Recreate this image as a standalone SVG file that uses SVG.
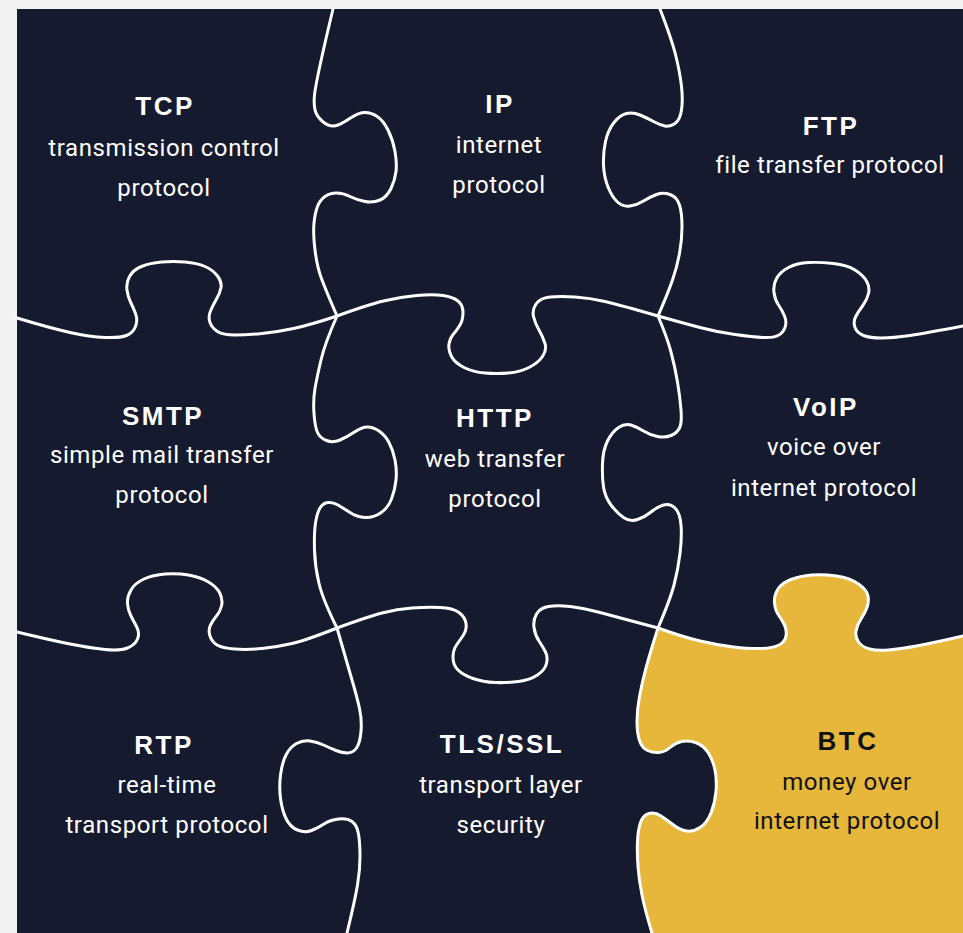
<svg xmlns="http://www.w3.org/2000/svg" width="963" height="933" viewBox="0 0 963 933">
<style>
.t{font-family:"Liberation Sans",Arial,sans-serif;font-weight:700;font-size:26px;letter-spacing:2.5px;fill:#ffffff;text-anchor:middle}
.s{font-family:Roboto,"Liberation Sans",sans-serif;font-size:24px;letter-spacing:0.6px;fill:#ffffff;text-anchor:middle}
.dark{fill:#111111}
.seam{fill:none;stroke:#ffffff;stroke-width:3;stroke-linecap:round;stroke-linejoin:round}
</style>
<rect x="0" y="0" width="963" height="933" fill="#f3f3f3"/>
<rect x="17" y="9" width="946" height="924" fill="#161a2e"/>
<g id="btc-shape">
<path fill="#e6b73a" d="M658,628 Q683,637 700,641 Q717,645 733.5,647 Q750,649 761.5,648.5 Q773,648 779,645 Q785,642 786,636 Q787,630 784.5,625 Q782,620 778.5,615 Q775,610 774.5,602.5 Q774,595 778,589 Q782,583 791,579.5 Q800,576 811.5,575 Q823,574 836.5,576 Q850,578 858.5,584 Q867,590 868,596 Q869,602 867,607.5 Q865,613 861,619 Q857,625 856,631 Q855,637 858.5,642 Q862,647 869.5,649 Q877,651 888.5,650 Q900,649 916.5,646 Q933,643 963,636 L963,933 L652,933 Q645,910 642,895 Q639,880 638,866.5 Q637,853 637.5,841.5 Q638,830 640.5,822.5 Q643,815 649,813.5 Q655,812 661,816 Q667,820 673.5,825 Q680,830 686.5,831 Q693,832 700,827.5 Q707,823 711,813 Q715,803 716,791.5 Q717,780 715,770 Q713,760 708,752.5 Q703,745 695.5,742.5 Q688,740 681.5,741.5 Q675,743 670,747.5 Q665,752 659,752.5 Q653,753 647.5,750.5 Q642,748 639.5,740.5 Q637,733 637,721.5 Q637,710 639.5,696.5 Q642,683 646,668 Q650,653 658,628 Z"/>
</g>
<g id="connectors" class="seam">
<path d="M333,9 Q316,80 314.5,95 Q313,110 318,116.5 Q323,123 328,125 Q333,127 338,125 Q343,123 350.5,118 Q358,113 364,112.5 Q370,112 376.5,116 Q383,120 388,130 Q393,140 395,151.5 Q397,163 396,171.5 Q395,180 391,188.5 Q387,197 380,200 Q373,203 365,201.5 Q357,200 350,196.5 Q343,193 336.5,193 Q330,193 325,196.5 Q320,200 317.5,206.5 Q315,213 314,223 Q313,233 315,250 Q317,267 322,280 Q327,293 337,316"/>
<path d="M337,316 Q325,343 321,360 Q317,377 315,388.5 Q313,400 314,413.5 Q315,427 317.5,432.5 Q320,438 326.5,440.5 Q333,443 340,440 Q347,437 354.5,432 Q362,427 367.5,427 Q373,427 379,431 Q385,435 389,442.5 Q393,450 395,460 Q397,470 396,480 Q395,490 391.5,499 Q388,508 380.5,513 Q373,518 365,517.5 Q357,517 350,512.5 Q343,508 338,505 Q333,502 328,502.5 Q323,503 320,508 Q317,513 315.5,523 Q314,533 314.5,550 Q315,567 319,583.5 Q323,600 337,628"/>
<path d="M337,628 Q347,663 352,680 Q357,697 359.5,708.5 Q362,720 361,731.5 Q360,743 356.5,748 Q353,753 347.5,753 Q342,753 336,750.5 Q330,748 323.5,745 Q317,742 310,741 Q303,740 296.5,743.5 Q290,747 286,755 Q282,763 280.5,775 Q279,787 280.5,798.5 Q282,810 286,818.5 Q290,827 297.5,830 Q305,833 311.5,830.5 Q318,828 324,824 Q330,820 338.5,819 Q347,818 352,821.5 Q357,825 358.5,834 Q360,843 360,856.5 Q360,870 357.5,885 Q355,900 347,933"/>
<path d="M660,9 Q672,40 676,56.5 Q680,73 681.5,86.5 Q683,100 681.5,110 Q680,120 675,123.5 Q670,127 665,126 Q660,125 653.5,121.5 Q647,118 640,115 Q633,112 626.5,113.5 Q620,115 614,122.5 Q608,130 605.5,141.5 Q603,153 603.5,165 Q604,177 608,187 Q612,197 617.5,202 Q623,207 630,206 Q637,205 643.5,201 Q650,197 656.5,194.5 Q663,192 670,194.5 Q677,197 679.5,205 Q682,213 682,226.5 Q682,240 679.5,253.5 Q677,267 672.5,280 Q668,293 658,316"/>
<path d="M658,316 Q667,337 671,352 Q675,367 677.5,382 Q680,397 681,410 Q682,423 679.5,428 Q677,433 671,435.5 Q665,438 657.5,436.5 Q650,435 643.5,431 Q637,427 631,425 Q625,423 618.5,427.5 Q612,432 607.5,441 Q603,450 602.5,463.5 Q602,477 603.5,487 Q605,497 611,505 Q617,513 623.5,517.5 Q630,522 637.5,519.5 Q645,517 651,512 Q657,507 663.5,505 Q670,503 675,508 Q680,513 681,525 Q682,537 680,553.5 Q678,570 674,585 Q670,600 658,628"/>
<path d="M658,628 Q650,653 646,668 Q642,683 639.5,696.5 Q637,710 637,721.5 Q637,733 639.5,740.5 Q642,748 647.5,750.5 Q653,753 659,752.5 Q665,752 670,747.5 Q675,743 681.5,741.5 Q688,740 695.5,742.5 Q703,745 708,752.5 Q713,760 715,770 Q717,780 716,791.5 Q715,803 711,813 Q707,823 700,827.5 Q693,832 686.5,831 Q680,830 673.5,825 Q667,820 661,816 Q655,812 649,813.5 Q643,815 640.5,822.5 Q638,830 637.5,841.5 Q637,853 638,866.5 Q639,880 642,895 Q645,910 652,933"/>
<path d="M17,318 Q50,328 70,332.5 Q90,337 105,337.5 Q120,338 126.5,335.5 Q133,333 135.5,326.5 Q138,320 135.5,313.5 Q133,307 130.5,302 Q128,297 127,290 Q126,283 129.5,276.5 Q133,270 141.5,266.5 Q150,263 161.5,262 Q173,261 185,262 Q197,263 205,266.5 Q213,270 217.5,276 Q222,282 221,287.5 Q220,293 216.5,299 Q213,305 210.5,311 Q208,317 210,322.5 Q212,328 217.5,331.5 Q223,335 235,335 Q247,335 262,333.5 Q277,332 293.5,328.5 Q310,325 337,316"/>
<path d="M337,316 Q367,305 383.5,301 Q400,297 416.5,295.5 Q433,294 443,295.5 Q453,297 458,301 Q463,305 463,312.5 Q463,320 460,325 Q457,330 453.5,334 Q450,338 449,344 Q448,350 451.5,356.5 Q455,363 464,367.5 Q473,372 485,373 Q497,374 508.5,373 Q520,372 529,367.5 Q538,363 542.5,356.5 Q547,350 545,343.5 Q543,337 539,330 Q535,323 533.5,316.5 Q532,310 536,304 Q540,298 550,297 Q560,296 575,297 Q590,298 605,301.5 Q620,305 658,316"/>
<path d="M658,316 Q683,323 700,327.5 Q717,332 735,334.5 Q753,337 763,337.5 Q773,338 778,335.5 Q783,333 785,327.5 Q787,322 784.5,316 Q782,310 778.5,305 Q775,300 774,292.5 Q773,285 776.5,278.5 Q780,272 788.5,267.5 Q797,263 808.5,262.5 Q820,262 833.5,263.5 Q847,265 855,270 Q863,275 866.5,281 Q870,287 868.5,293.5 Q867,300 862.5,306 Q858,312 855.5,317 Q853,322 855,327.5 Q857,333 863.5,335.5 Q870,338 881.5,338 Q893,338 910,335.5 Q927,333 963,326"/>
<path d="M17,632 Q50,640 70,644 Q90,648 105,649.5 Q120,651 127.5,648 Q135,645 137.5,639 Q140,633 136.5,626.5 Q133,620 130.5,615 Q128,610 127.5,603.5 Q127,597 131,590 Q135,583 144,579 Q153,575 165,574 Q177,573 188.5,575 Q200,577 208.5,582 Q217,587 220,593.5 Q223,600 221.5,606 Q220,612 216.5,616 Q213,620 210.5,625 Q208,630 210,636 Q212,642 217,645 Q222,648 234.5,649 Q247,650 262,648.5 Q277,647 292,643.5 Q307,640 337,628"/>
<path d="M337,628 Q367,617 382,613 Q397,609 412,608 Q427,607 440,607.5 Q453,608 459,612.5 Q465,617 466,623.5 Q467,630 463.5,635 Q460,640 456.5,645 Q453,650 453,657.5 Q453,665 458,670 Q463,675 473,678.5 Q483,682 495,682.5 Q507,683 518.5,681.5 Q530,680 537.5,675 Q545,670 546.5,663.5 Q548,657 545.5,652 Q543,647 539,641 Q535,635 534,627.5 Q533,620 536.5,614 Q540,608 548.5,606.5 Q557,605 570,606.5 Q583,608 600,612.5 Q617,617 658,628"/>
<path d="M658,628 Q683,637 700,641 Q717,645 733.5,647 Q750,649 761.5,648.5 Q773,648 779,645 Q785,642 786,636 Q787,630 784.5,625 Q782,620 778.5,615 Q775,610 774.5,602.5 Q774,595 778,589 Q782,583 791,579.5 Q800,576 811.5,575 Q823,574 836.5,576 Q850,578 858.5,584 Q867,590 868,596 Q869,602 867,607.5 Q865,613 861,619 Q857,625 856,631 Q855,637 858.5,642 Q862,647 869.5,649 Q877,651 888.5,650 Q900,649 916.5,646 Q933,643 963,636"/>
</g>
<g id="tcp"><text class="t" x="165" y="115">TCP</text><text class="s" x="164" y="156">transmission control</text><text class="s" x="164" y="196">protocol</text></g>
<g id="ip"><text class="t" x="500" y="113">IP</text><text class="s" x="499" y="153">internet</text><text class="s" x="499" y="193">protocol</text></g>
<g id="ftp"><text class="t" x="831" y="135">FTP</text><text class="s" x="830" y="173">file transfer protocol</text></g>
<g id="smtp"><text class="t" x="163" y="425">SMTP</text><text class="s" x="162" y="463">simple mail transfer</text><text class="s" x="162" y="503">protocol</text></g>
<g id="http"><text class="t" x="495" y="427">HTTP</text><text class="s" x="495" y="467">web transfer</text><text class="s" x="495" y="507">protocol</text></g>
<g id="voip"><text class="t" x="826" y="416">VoIP</text><text class="s" x="824" y="455">voice over</text><text class="s" x="824" y="496">internet protocol</text></g>
<g id="rtp"><text class="t" x="164" y="754">RTP</text><text class="s" x="167" y="793">real-time</text><text class="s" x="167" y="833">transport protocol</text></g>
<g id="tls"><text class="t" x="502" y="753">TLS/SSL</text><text class="s" x="501" y="793">transport layer</text><text class="s" x="501" y="833">security</text></g>
<g id="btc"><text class="t dark" x="848" y="750">BTC</text><text class="s dark" x="847" y="790">money over</text><text class="s dark" x="847" y="829">internet protocol</text></g>
</svg>
